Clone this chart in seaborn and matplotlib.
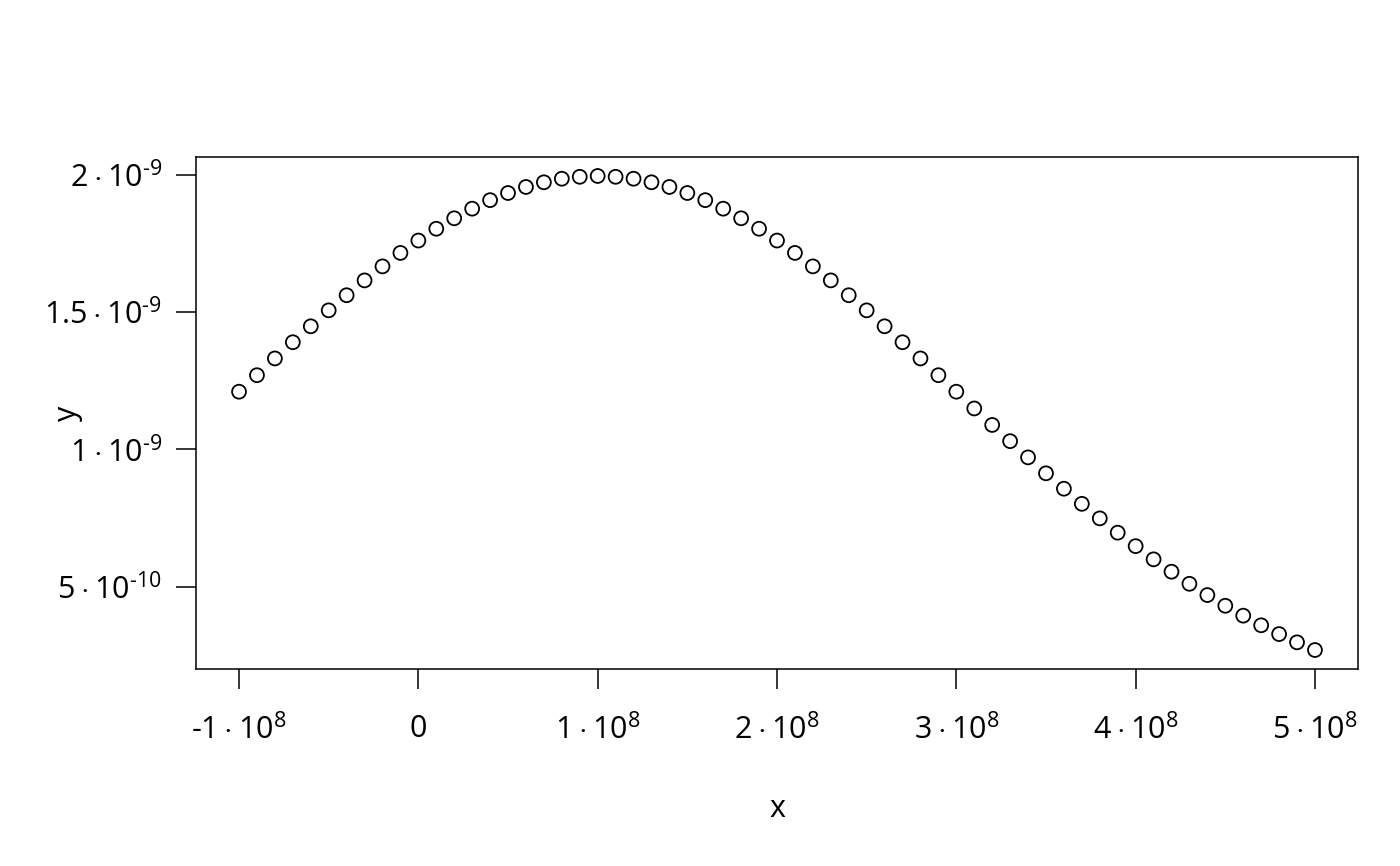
import matplotlib
matplotlib.use("Agg")
import matplotlib.pyplot as plt
import seaborn as sns
import numpy as np

# x positions and y values (y in units of 1e-9)
x_vals = np.arange(-10, 51) * 1e7
y_e9 = [1.210, 1.270, 1.331, 1.390, 1.448, 1.506, 1.561, 1.615, 1.666, 1.715,
        1.760, 1.803, 1.841, 1.876, 1.907, 1.933, 1.955, 1.972, 1.985, 1.992,
        1.995,
        1.992, 1.985, 1.972, 1.955, 1.933, 1.907, 1.876, 1.841, 1.803, 1.760,
        1.715, 1.666, 1.615, 1.561, 1.506, 1.448, 1.390, 1.331, 1.270, 1.210,
        1.149, 1.089, 1.030, 0.971, 0.913, 0.857, 0.802, 0.749, 0.697, 0.648,
        0.600, 0.555, 0.511, 0.470, 0.431, 0.395, 0.360, 0.328, 0.298, 0.270]
y_vals = np.array(y_e9) * 1e-9

x_ticks = [-1e8, 0, 1e8, 2e8, 3e8, 4e8, 5e8]
x_labels = [r'$\text{-}1\cdot10^{8}$', '0', r'$1\cdot10^{8}$', r'$2\cdot10^{8}$',
            r'$3\cdot10^{8}$', r'$4\cdot10^{8}$', r'$5\cdot10^{8}$']
y_ticks = [5e-10, 1e-9, 1.5e-9, 2e-9]
y_labels = [r'$5\cdot10^{\text{-}10}$', r'$1\cdot10^{\text{-}9}$',
            r'$1.5\cdot10^{\text{-}9}$', r'$2\cdot10^{\text{-}9}$']

sns.set_style("ticks")
plt.rcParams['font.family'] = ['Open Sans', 'DejaVu Sans']
plt.rcParams['mathtext.fontset'] = 'custom'
plt.rcParams['mathtext.rm'] = 'Open Sans'
plt.rcParams['mathtext.it'] = 'Open Sans'
plt.rcParams['mathtext.bf'] = 'Open Sans'
plt.rcParams['text.color'] = 'black'
plt.rcParams['axes.labelcolor'] = 'black'
plt.rcParams['xtick.color'] = 'black'
plt.rcParams['ytick.color'] = 'black'

fig = plt.figure(figsize=(14, 8.66), dpi=100)
ax = fig.add_axes([0.14, 0.2275, 0.83, 0.5912])

sns.scatterplot(x=x_vals, y=y_vals, ax=ax, s=100, facecolor='none',
                edgecolor='black', linewidth=1.3, marker='o')

ax.set_xlim(-1.24e8, 5.24e8)
ax.set_ylim(0.201e-9, 2.064e-9)
ax.set_xticks(x_ticks)
ax.set_xticklabels(x_labels, fontsize=22)
ax.set_yticks(y_ticks)
ax.set_yticklabels(y_labels, fontsize=22)
ax.tick_params(length=14.5, width=1.1)
ax.tick_params(axis='x', pad=18)
ax.tick_params(axis='y', pad=10)
for sp in ax.spines.values():
    sp.set_visible(True)
    sp.set_linewidth(1.1)
    sp.set_color('black')
ax.set_xlabel('x', fontsize=22)
ax.set_ylabel('y', fontsize=22)
ax.xaxis.set_label_coords(0.5, -0.245)
ax.yaxis.set_label_coords(-0.0975, 0.5)

fig.savefig('out.png', dpi=100)
